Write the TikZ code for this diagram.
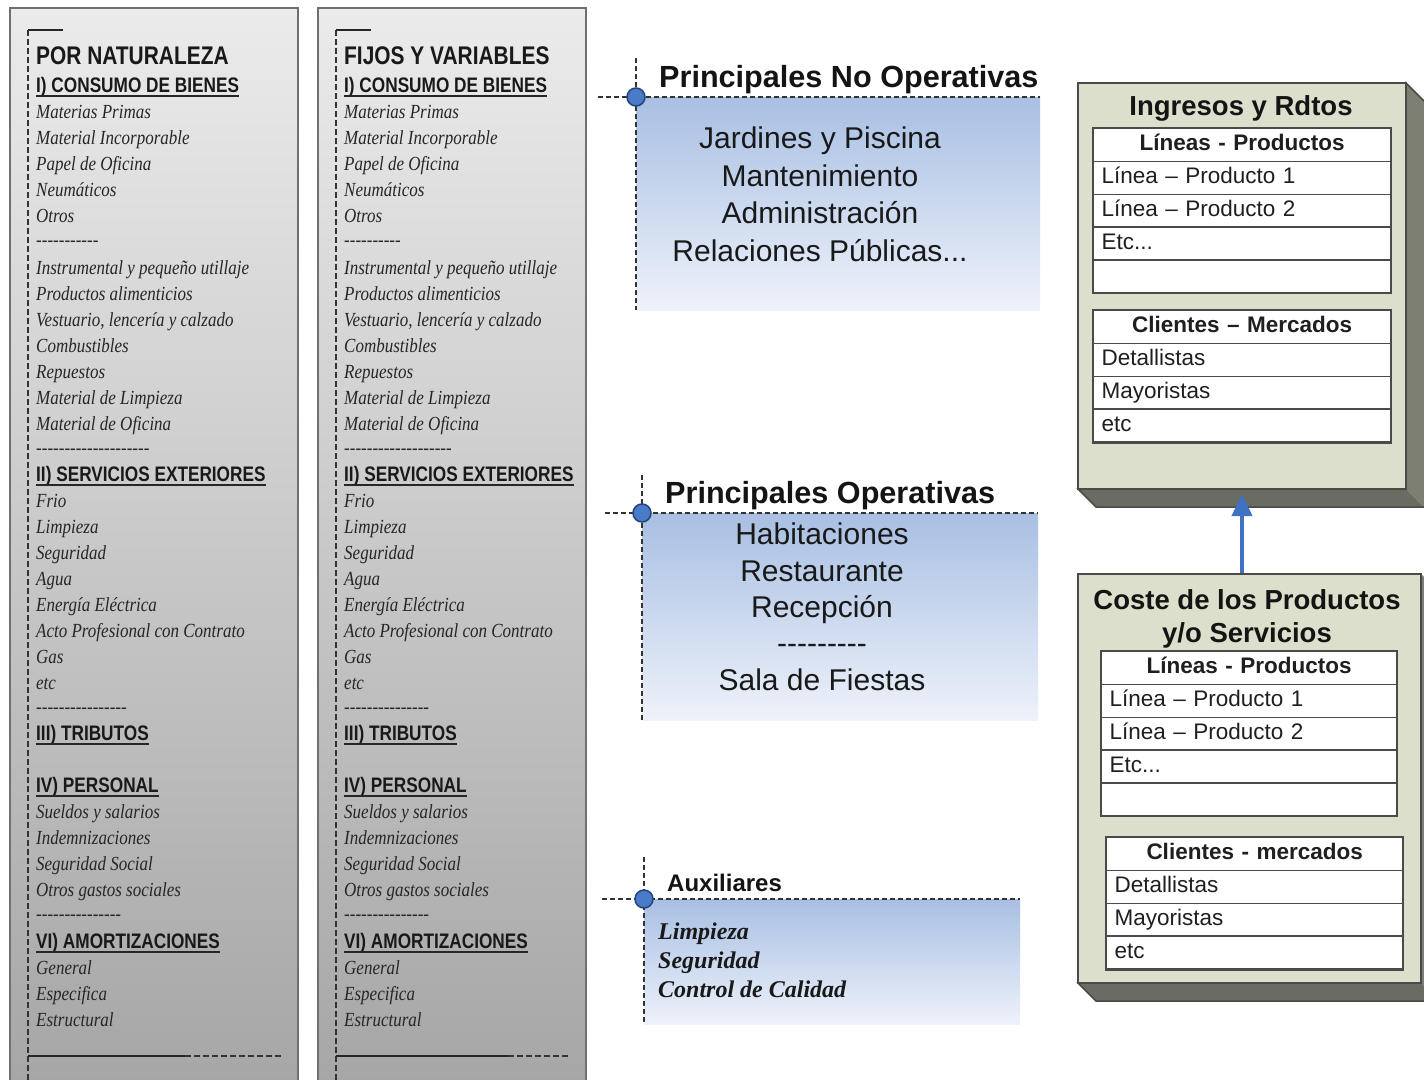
\documentclass[tikz,border=0pt]{standalone}
\usepackage{fontspec}
\setmainfont{Liberation Sans}
\newfontfamily\hdfont[FakeStretch=0.82]{Liberation Sans}
\newfontfamily\itfont[FakeStretch=0.85]{Liberation Serif}
\newfontfamily\tmfont{Liberation Serif}
\usetikzlibrary{arrows.meta}
\definecolor{pnltop}{HTML}{EBEBEB}
\definecolor{pnlbot}{HTML}{A5A5A5}
\definecolor{pnlline}{HTML}{707070}
\definecolor{txtgray}{HTML}{262626}
\definecolor{bluetop}{HTML}{A8BFE3}
\definecolor{bluebot}{HTML}{EEF2FA}
\definecolor{dotfill}{HTML}{4A7BC9}
\definecolor{dotline}{HTML}{23457A}
\definecolor{boxfront}{HTML}{DCDFCB}
\definecolor{boxside}{HTML}{7C7F72}
\definecolor{boxline}{HTML}{4A4A4A}
\definecolor{arrowblue}{HTML}{3F72C2}
\tikzset{
  panel/.style={draw=pnlline, line width=2pt, top color=pnltop, bottom color=pnlbot},
  itl/.style={anchor=base west, inner sep=0pt, text=txtgray, font=\itfont\itshape\fontsize{20}{22}\selectfont},
  dsh/.style={anchor=base west, inner sep=0pt, text=txtgray, font=\itfont\fontsize{20}{22}\selectfont},
  hdl/.style={anchor=base west, inner sep=0pt, text=black!90, font=\hdfont\bfseries\fontsize{21}{23}\selectfont},
  ttl/.style={anchor=base west, inner sep=0pt, text=black!90, font=\hdfont\bfseries\fontsize{25.5}{27}\selectfont},
  uline/.style={line width=1.6pt, black!85},
  pdash/.style={line width=1.6pt, black!80, dash pattern=on 6pt off 3pt},
  psolid/.style={line width=2pt, black!85},
  mdash/.style={line width=1.5pt, black!80, dash pattern=on 5pt off 3pt},
  dot/.style={circle, fill=dotfill, draw=dotline, line width=1.5pt, minimum size=18pt, inner sep=0pt},
  mtitle/.style={anchor=base west, inner sep=0pt, text=black!92, font=\bfseries\fontsize{30.6}{32}\selectfont},
  mbody/.style={anchor=base, inner sep=0pt, text=black!90, font=\fontsize{30}{32}\selectfont},
  atitle/.style={anchor=base west, inner sep=0pt, text=black!92, font=\bfseries\fontsize{24}{26}\selectfont},
  abody/.style={anchor=base west, inner sep=0pt, text=black!90, font=\tmfont\bfseries\itshape\fontsize{24}{26}\selectfont},
  front/.style={draw=boxline, line width=2pt, fill=boxfront, inner sep=0pt, anchor=north west},
  btitle/.style={anchor=base, inner sep=0pt, text=black!92, font=\bfseries\fontsize{27.5}{30}\selectfont},
  cell/.style={draw=boxline, line width=1.3pt, fill=white, anchor=north west, inner xsep=8pt, inner ysep=0pt, minimum height=32.8pt, text height=16pt, text depth=4.5pt, font=\fontsize{22.5}{24}\selectfont, align=left, text=black!88},
  cellh/.style={cell, font=\bfseries\fontsize{22.5}{24}\selectfont, align=center},
  touter/.style={draw=boxline, line width=2pt},
  arr/.style={draw=arrowblue, line width=4pt, -{Triangle[length=22pt,width=20pt]}}
}
\newcommand\hyph[1]{\foreach\i in {1,...,#1}{-}}
\newcommand\drawpanel[9]{%
\begin{scope}[xshift=#2pt]
\draw[panel] (10,8) rectangle (#3,1100);
\draw[psolid] (28,30) -- (63,30);
\draw[pdash] (28,30) -- (28,1100);
\draw[psolid] (28,1056) -- (#5,1056);
\draw[pdash] (#5,1056) -- (#3-16,1056);
\node[ttl] (#1t) at (36,64) {#4};
\foreach \hyy/\hl in {92/{I) CONSUMO DE BIENES}, 481/{II) SERVICIOS EXTERIORES}, 740/{III) TRIBUTOS}, 792/{IV) PERSONAL}, 948/{VI) AMORTIZACIONES}} {
  \node[hdl] (#1h\hyy) at (36,\hyy) {\hl};
  \draw[uline] ([yshift=-4pt]#1h\hyy.base west) -- ([yshift=-4pt]#1h\hyy.base east);
}
\foreach \iy/\il in {118/Materias Primas, 144/Material Incorporable, 170/Papel de Oficina, 196/Neumáticos, 222/Otros, 274/Instrumental y pequeño utillaje, 300/Productos alimenticios, 326/{Vestuario, lencería y calzado}, 352/Combustibles, 378/Repuestos, 404/Material de Limpieza, 430/Material de Oficina, 507/Frio, 533/Limpieza, 559/Seguridad, 585/Agua, 611/Energía Eléctrica, 637/Acto Profesional con Contrato, 663/Gas, 689/etc, 818/Sueldos y salarios, 844/Indemnizaciones, 870/Seguridad Social, 896/Otros gastos sociales, 974/General, 1000/Especifica, 1026/Estructural}
  {\node[itl] (#1i\iy) at (36,\iy) {\il};}
\node[dsh] (#1d1) at (36,246) {\hyph{#6}};
\node[dsh] (#1d2) at (36,454) {\hyph{#7}};
\node[dsh] (#1d3) at (36,713) {\hyph{#8}};
\node[dsh] (#1d4) at (36,920) {\hyph{#9}};
\end{scope}}
\begin{document}
\begin{tikzpicture}[x=1pt,y=-1pt]
\useasboundingbox (0,0) rectangle (1424,1079);
\clip (0,0) rectangle (1424,1079);
\fill[white] (0,0) rectangle (1424,1079);

% ---- left panels
\drawpanel{pa}{0}{298}{POR NATURALEZA}{185}{11}{20}{16}{15}
\drawpanel{pb}{308}{278}{FIJOS Y VARIABLES}{200}{10}{19}{15}{15}

% ---- Principales No Operativas
\fill[top color=bluetop, bottom color=bluebot] (636,97) rectangle (1040,310);
\draw[mdash] (636,58) -- (636,310);
\draw[mdash] (598,97) -- (1040,97);
\node[dot] (d1) at (636,97) {};
\node[mtitle] (t1) at (659,87) {Principales No Operativas};
\node[mbody] (b1a) at (820,148) {Jardines y Piscina};
\node[mbody] (b1b) at (820,186) {Mantenimiento};
\node[mbody] (b1c) at (820,223) {Administración};
\node[mbody] (b1d) at (820,261) {Relaciones Públicas...};

% ---- Principales Operativas
\fill[top color=bluetop, bottom color=bluebot] (642,513) rectangle (1038,720);
\draw[mdash] (642,475) -- (642,720);
\draw[mdash] (605,513) -- (1038,513);
\node[dot] (d2) at (642,513) {};
\node[mtitle] (t2) at (665,503) {Principales Operativas};
\node[mbody] (b2a) at (822,544) {Habitaciones};
\node[mbody] (b2b) at (822,581) {Restaurante};
\node[mbody] (b2c) at (822,617) {Recepción};
\node[mbody] (b2d) at (822,653) {\hyph{9}};
\node[mbody] (b2e) at (822,690) {Sala de Fiestas};

% ---- Auxiliares
\fill[top color=bluetop, bottom color=bluebot] (644,899) rectangle (1020,1024);
\draw[mdash] (644,857) -- (644,1024);
\draw[mdash] (602,899) -- (1020,899);
\node[dot] (d3) at (644,899) {};
\node[atitle] (t3) at (667,891) {Auxiliares};
\node[abody] (b3a) at (658,939) {Limpieza};
\node[abody] (b3b) at (658,968) {Seguridad};
\node[abody] (b3c) at (658,997) {Control de Calidad};

% ---- Box 1: Ingresos y Rdtos
\fill[boxside] (1405,82) -- (1424,101) -- (1424,507) -- (1405,488) -- cycle;
\fill[boxside!85!black] (1077,488) -- (1405,488) -- (1424,507) -- (1096,507) -- cycle;
\draw[boxline, line width=1.5pt] (1405,82) -- (1424,101);
\draw[boxline, line width=1.5pt] (1077,488) -- (1096,507) -- (1424,507);
\node[front, minimum width=328pt, minimum height=406pt] (ing) at (1077,82) {};
\node[btitle] (ingt) at (1241,115) {Ingresos y Rdtos};
\node[cellh, text width=281pt] (ia0) at (1093,128) {Líneas - Productos};
\node[cell, text width=281pt] (ia1) at (1093,160.8) {Línea – Producto 1};
\node[cell, text width=281pt] (ia2) at (1093,193.6) {Línea – Producto 2};
\node[cell, text width=281pt] (ia3) at (1093,226.4) {Etc...};
\node[cell, text width=281pt] (ia4) at (1093,259.2) {};
\draw[touter] (ia0.north west) rectangle (ia4.south east);
\node[cellh, text width=281pt] (ib0) at (1093,310) {Clientes – Mercados};
\node[cell, text width=281pt] (ib1) at (1093,342.8) {Detallistas};
\node[cell, text width=281pt] (ib2) at (1093,375.6) {Mayoristas};
\node[cell, text width=281pt] (ib3) at (1093,408.4) {etc};
\draw[touter] (ib0.north west) rectangle (ib3.south east);

% ---- Box 2: Coste
\fill[boxside] (1420,573) -- (1439,592) -- (1439,1001) -- (1420,982) -- cycle;
\fill[boxside!85!black] (1077,982) -- (1420,982) -- (1439,1001) -- (1096,1001) -- cycle;
\draw[boxline, line width=1.5pt] (1077,982) -- (1096,1001) -- (1439,1001);
\node[front, minimum width=343pt, minimum height=409pt] (cost) at (1077,573) {};
\node[btitle] (costt1) at (1247,609) {Coste de los Productos};
\node[btitle] (costt2) at (1247,642) {y/o Servicios};
\node[cellh, text width=279pt] (ca0) at (1101,651) {Líneas - Productos};
\node[cell, text width=279pt] (ca1) at (1101,683.8) {Línea – Producto 1};
\node[cell, text width=279pt] (ca2) at (1101,716.6) {Línea – Producto 2};
\node[cell, text width=279pt] (ca3) at (1101,749.4) {Etc...};
\node[cell, text width=279pt] (ca4) at (1101,782.2) {};
\draw[touter] (ca0.north west) rectangle (ca4.south east);
\node[cellh, text width=280pt] (cb0) at (1106,837) {Clientes - mercados};
\node[cell, text width=280pt] (cb1) at (1106,869.8) {Detallistas};
\node[cell, text width=280pt] (cb2) at (1106,902.6) {Mayoristas};
\node[cell, text width=280pt] (cb3) at (1106,935.4) {etc};
\draw[touter] (cb0.north west) rectangle (cb3.south east);

% ---- arrow
\draw[arr] (ing.south |- cost.north) -- ([yshift=-4pt]ing.south);
\end{tikzpicture}
\end{document}
